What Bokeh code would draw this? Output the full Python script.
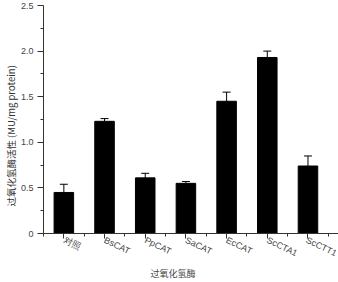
from bokeh.plotting import figure
from bokeh.models import ColumnDataSource, FixedTicker, Range1d, Whisker, TeeHead
from bokeh.embed import file_html
from bokeh.resources import INLINE

categories = ["对照", "BsCAT", "PpCAT", "SaCAT", "EcCAT", "ScCTA1", "ScCTT1"]
activity = [0.45, 1.23, 0.61, 0.55, 1.45, 1.93, 0.74]
error = [0.09, 0.03, 0.05, 0.02, 0.10, 0.07, 0.11]
y_ticks = [0, 0.5, 1.0, 1.5, 2.0, 2.5]
y_tick_labels = ["0", "0.5", "1.0", "1.5", "2.0", "2.5"]
y_title = "过氧化氢酶活性 (MU/mg protein)"
x_title = "过氧化氢酶"

xs = list(range(len(categories)))
src = ColumnDataSource(dict(
    x=xs, top=activity,
    upper=[a + e for a, e in zip(activity, error)],
))

p = figure(width=338, height=282, output_backend="svg", toolbar_location=None,
           x_range=Range1d(-0.5, 6.75), y_range=Range1d(0, 2.5),
           min_border_left=0, min_border_top=5, min_border_right=0, min_border_bottom=0)
p.outline_line_color = None
p.grid.grid_line_color = None
p.background_fill_color = "white"

p.vbar(x="x", top="top", width=0.48, source=src, fill_color="black", line_color="black")

w = Whisker(base="x", lower="top", upper="upper", source=src,
            line_color="black", line_width=1,
            upper_head=TeeHead(size=8, line_color="black", line_width=1),
            lower_head=None)
p.add_layout(w)

# y axis (trailing ideographic spaces shift the visible title down, as in the original)
p.yaxis.ticker = FixedTicker(ticks=y_ticks, minor_ticks=[0.25, 0.75, 1.25, 1.75, 2.25])
p.yaxis.major_label_overrides = {t: l for t, l in zip(y_ticks, y_tick_labels)}
p.yaxis.axis_label = y_title + "\u3000\u3000\u3000\u00a0\u00a0"
p.yaxis.axis_label_text_font = "Noto Sans CJK SC"
p.yaxis.axis_label_text_font_style = "normal"
p.yaxis.axis_label_text_font_size = "9.5px"
p.yaxis.axis_label_text_line_height = 1.0
p.yaxis.axis_label_text_color = "#333333"
p.yaxis.axis_label_standoff = 0
p.yaxis.major_label_text_font = "Liberation Sans"
p.yaxis.major_label_text_font_size = "9px"
p.yaxis.major_label_text_color = "#444444"
p.yaxis.major_label_standoff = 4
p.yaxis.major_tick_out = 6
p.yaxis.major_tick_in = 0
p.yaxis.minor_tick_out = 3
p.yaxis.minor_tick_in = 0
p.yaxis.axis_line_color = "#333333"
p.yaxis.major_tick_line_color = "#333333"
p.yaxis.minor_tick_line_color = "#333333"

# x axis
p.xaxis.ticker = FixedTicker(ticks=xs, minor_ticks=[i + 0.5 for i in range(-1, 7)])
p.xaxis.major_label_overrides = {i: c for i, c in zip(xs, categories)}
p.xaxis.major_label_orientation = -0.45
p.xaxis.major_label_text_font = "Liberation Sans"
p.xaxis.major_label_text_font_size = "9px"
p.xaxis.major_label_text_color = "#444444"
p.xaxis.major_label_standoff = 1
p.xaxis.major_tick_out = 5
p.xaxis.major_tick_in = 0
p.xaxis.minor_tick_out = 3
p.xaxis.minor_tick_in = 0
p.xaxis.axis_label = x_title + "\u3000\u3000\u3000\u3000"
p.xaxis.axis_label_text_font = "Noto Sans CJK SC"
p.xaxis.axis_label_text_font_style = "normal"
p.xaxis.axis_label_text_font_size = "9px"
p.xaxis.axis_label_text_line_height = 1.0
p.xaxis.axis_label_text_color = "#444444"
p.xaxis.axis_label_standoff = 1
p.xaxis.axis_line_color = "#333333"
p.xaxis.major_tick_line_color = "#333333"
p.xaxis.minor_tick_line_color = "#333333"

open("out.html", "w").write(file_html(p, INLINE))
